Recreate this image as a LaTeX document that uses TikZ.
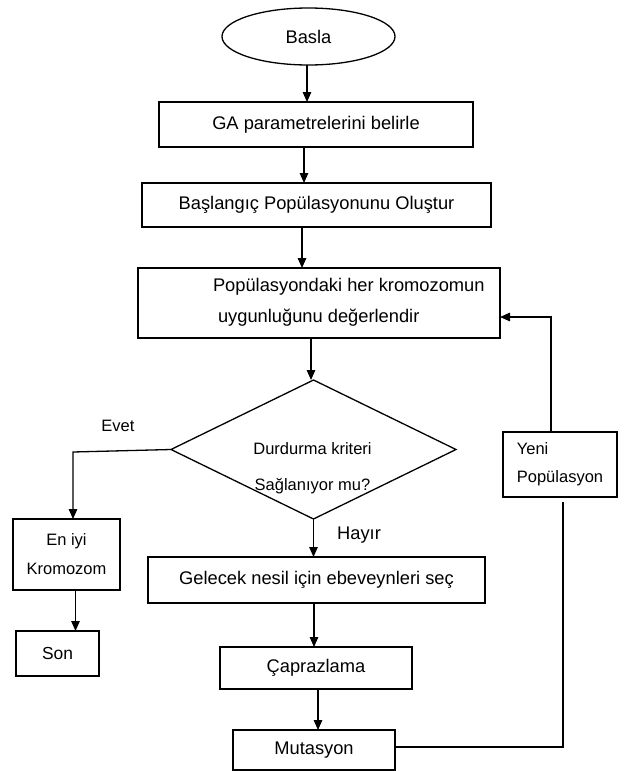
\documentclass[tikz,border=0pt]{standalone}
\usepackage{fontspec}
\setmainfont{Liberation Sans}
\usetikzlibrary{shapes.geometric,arrows.meta}
\begin{document}
\begin{tikzpicture}[x=1pt,y=-1pt,
  every node/.style={inner sep=0pt,outer sep=0pt},
  bigtxt/.style={font=\fontsize{18.3}{22}\selectfont},
  smalltxt/.style={font=\fontsize{16.5}{29}\selectfont},
  box/.style={draw,line width=1.3pt,rectangle,bigtxt},
  arr/.style={line width=1.3pt,-{Triangle[length=10pt,width=8.5pt]}},
  conn/.style={line width=1.3pt}]
\useasboundingbox (0,0) rectangle (625,771);
% nodes
\node[draw,line width=1.3pt,ellipse,minimum width=173pt,minimum height=57pt,bigtxt] (start) at (308.5,36.5) {Basla};
\node[box,minimum width=314pt,minimum height=45pt] (ga) at (316,124.5) {GA parametrelerini belirle};
\node[box,minimum width=349pt,minimum height=44pt] (init) at (316.5,205) {Başlangıç Popülasyonunu Oluştur};
\node[box,minimum width=362pt,minimum height=70pt] (eval) at (319,303) {};
\node[bigtxt,anchor=west] (evalA) at (213,287) {Popülasyondaki her kromozomun};
\node[bigtxt,anchor=west] (evalB) at (218,318) {uygunluğunu değerlendir};
\node[draw,line width=1.3pt,diamond,minimum width=285pt,minimum height=139pt] (dec) at (313.5,449.5) {};
\node[font=\fontsize{16.5}{36}\selectfont,align=center] (decT) at (312.5,468) {Durdurma kriteri\\Sağlanıyor mu?};
\node[smalltxt] (evet) at (118,426) {Evet};
\node[bigtxt] (hayir) at (359,535) {Hayır};
\node[draw,line width=1.3pt,minimum width=107pt,minimum height=71pt,smalltxt,align=center] (best) at (66.5,554.5) {En iyi\\Kromozom};
\node[box,minimum width=83pt,minimum height=45pt,font=\fontsize{17.4}{22}\selectfont] (son) at (57.5,653.5) {Son};
\node[box,minimum width=337pt,minimum height=46pt] (sel) at (316.5,580) {Gelecek nesil için ebeveynleri seç};
\node[box,minimum width=192pt,minimum height=42pt] (cross) at (316,668) {Çaprazlama};
\node[box,minimum width=162pt,minimum height=40pt] (mut) at (314,750) {Mutasyon};
\node[draw,line width=1.3pt,minimum width=114pt,minimum height=65pt,font=\fontsize{16.5}{28}\selectfont,align=left] (yeni) at (560,464.5) {Yeni\\Popülasyon};
% coordinates
\coordinate (evc) at (73,452);
\coordinate (c1) at (563,747);
\coordinate (c2) at (563,502);
\coordinate (c3) at (551,317);
% connectors
\draw[arr] ([xshift=-1.5pt]start.south) -- ([xshift=-1.5pt]start.south |- ga.north);
\draw[arr] ([xshift=-12pt]ga.south) -- ([xshift=-12pt]ga.south |- init.north);
\draw[arr] ([xshift=-14.5pt]init.south) -- ([xshift=-14.5pt]init.south |- eval.north);
\draw[arr] ([xshift=-8pt]eval.south) -- ([xshift=-8pt]eval.south |- dec.north);
\draw[arr] (dec.west) -- (evc) -- (evc |- best.north);
\draw[arr] (dec.south) -- (dec.south |- sel.north);
\draw[arr] ([xshift=9pt]best.south) -- ([xshift=9pt]best.south |- son.north);
\draw[arr] ([xshift=-2.5pt]sel.south) -- ([xshift=-2.5pt]sel.south |- cross.north);
\draw[arr] ([xshift=2pt]cross.south) -- ([xshift=2pt]cross.south |- mut.north);
\draw[conn] (mut.east |- c1) -- (c1) -- (c2);
\draw[arr] (yeni.north -| c3) -- (c3) -- (c3 -| eval.east);
\end{tikzpicture}
\end{document}
